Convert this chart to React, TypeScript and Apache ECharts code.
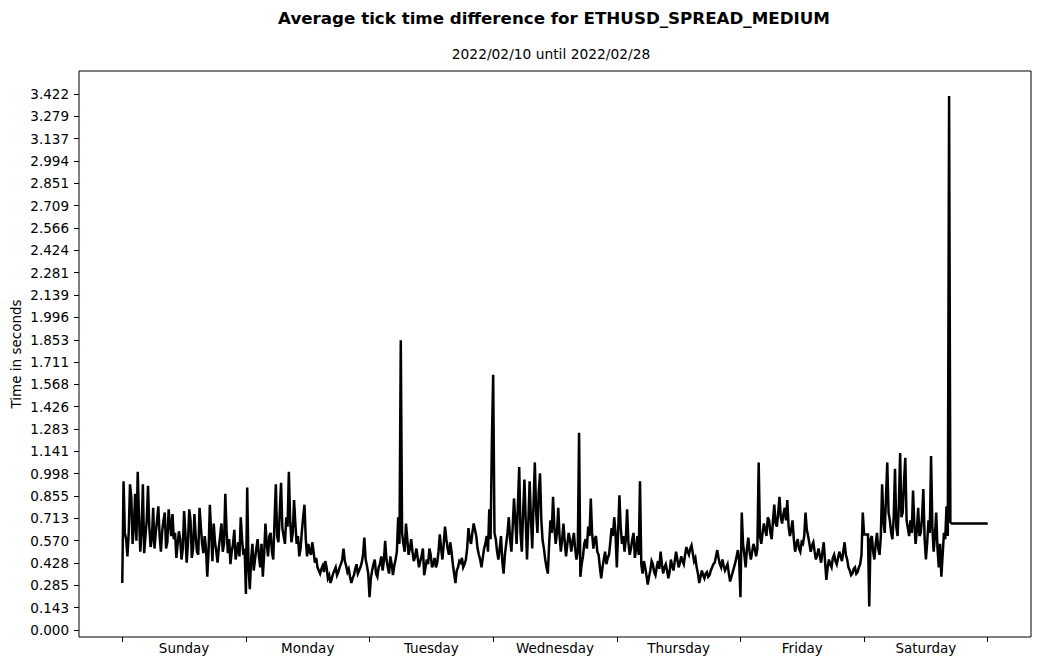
import React, { useEffect, useRef } from "react";
import * as echarts from "echarts";

const dayLabels = ["Sunday", "Monday", "Tuesday", "Wednesday", "Thursday", "Friday", "Saturday"];
const dayTicks = [0, 1, 2, 3, 4, 5, 6, 7];
const dayLabelPositions = [0.5, 1.5, 2.5, 3.5, 4.5, 5.5, 6.5];
const yTickLabels = [
  "0.000", "0.143", "0.285", "0.428", "0.570", "0.713", "0.855", "0.998", "1.141",
  "1.283", "1.426", "1.568", "1.711", "1.853", "1.996", "2.139", "2.281", "2.424",
  "2.566", "2.709", "2.851", "2.994", "3.137", "3.279", "3.422",
];

// averaged tick time differences, in seconds, sampled evenly across each day
const sunday = [0.30,0.95,0.62,0.58,0.47,0.62,0.93,0.85,0.55,0.66,0.87,0.57,1.01,0.72,0.50,0.64,0.93,0.49,0.60,0.70,0.92,0.66,0.53,0.58,0.78,0.52,0.62,0.70,0.79,0.60,0.50,0.63,0.70,0.75,0.52,0.56,0.77,0.68,0.60,0.74,0.58,0.62,0.46,0.55,0.63,0.58,0.45,0.52,0.76,0.62,0.43,0.55,0.77,0.70,0.46,0.52,0.74,0.60,0.50,0.48,0.78,0.66,0.55,0.49,0.60,0.52,0.34,0.50,0.80,0.62,0.44,0.68,0.56,0.50,0.43,0.53,0.60,0.68,0.50,0.55,0.87,0.63,0.49,0.58,0.42,0.50,0.55,0.64,0.45,0.50,0.56,0.47,0.72,0.58,0.48,0.52];
const monday = [0.23,0.91,0.40,0.26,0.45,0.55,0.38,0.45,0.52,0.58,0.47,0.40,0.55,0.34,0.48,0.68,0.55,0.47,0.60,0.62,0.50,0.45,0.70,0.93,0.60,0.56,0.75,0.94,0.65,0.60,0.55,0.72,0.66,1.01,0.70,0.56,0.62,0.83,0.68,0.55,0.60,0.47,0.52,0.63,0.72,0.80,0.58,0.47,0.55,0.50,0.48,0.56,0.50,0.43,0.46,0.40,0.38,0.36,0.39,0.41,0.37,0.44,0.40,0.33,0.35,0.30,0.33,0.36,0.38,0.40,0.35,0.37,0.40,0.42,0.45,0.52,0.44,0.41,0.37,0.39,0.34,0.30,0.33,0.35,0.39,0.42,0.36,0.38,0.40,0.43,0.48,0.59,0.45,0.41,0.36];
const tuesday = [0.21,0.33,0.38,0.42,0.45,0.36,0.34,0.40,0.42,0.47,0.38,0.44,0.57,0.45,0.40,0.36,0.47,0.42,0.35,0.41,0.45,0.50,0.72,0.55,1.85,0.62,0.55,0.50,0.68,0.58,0.48,0.52,0.58,0.50,0.44,0.47,0.52,0.46,0.40,0.44,0.47,0.52,0.35,0.40,0.45,0.42,0.52,0.48,0.40,0.42,0.46,0.40,0.43,0.50,0.61,0.52,0.45,0.55,0.66,0.58,0.52,0.48,0.56,0.50,0.42,0.36,0.30,0.38,0.40,0.44,0.43,0.46,0.40,0.42,0.45,0.52,0.65,0.58,0.55,0.62,0.68,0.64,0.60,0.52,0.48,0.45,0.40,0.46,0.52,0.55,0.60,0.50,0.77,0.58,1.20];
const wednesday = [1.63,0.62,0.58,0.50,0.45,0.52,0.60,0.44,0.36,0.48,0.55,0.62,0.72,0.58,0.50,0.66,0.84,0.70,0.55,0.80,1.04,0.62,0.50,0.75,0.96,0.70,0.45,0.68,0.95,0.72,0.52,0.80,1.07,0.75,0.62,0.88,1.00,0.70,0.57,0.52,0.45,0.40,0.36,0.55,0.70,0.62,0.85,0.66,0.55,0.62,0.78,0.60,0.50,0.58,0.68,0.56,0.47,0.55,0.62,0.58,0.50,0.56,0.62,0.52,0.45,0.50,1.26,0.34,0.42,0.47,0.55,0.58,0.52,0.66,0.60,0.84,0.62,0.52,0.58,0.60,0.50,0.48,0.40,0.33,0.40,0.45,0.50,0.42,0.46,0.48,0.56,0.65,0.60,0.72,0.62];
const thursday = [0.40,0.62,0.86,0.66,0.55,0.60,0.50,0.58,0.77,0.56,0.48,0.52,0.58,0.62,0.46,0.52,0.60,0.48,0.95,0.42,0.36,0.44,0.40,0.35,0.29,0.34,0.38,0.44,0.42,0.37,0.35,0.40,0.44,0.39,0.50,0.42,0.36,0.40,0.42,0.38,0.33,0.37,0.45,0.41,0.38,0.44,0.50,0.45,0.40,0.43,0.47,0.44,0.42,0.48,0.53,0.50,0.48,0.52,0.54,0.49,0.44,0.46,0.40,0.36,0.30,0.34,0.38,0.35,0.33,0.36,0.37,0.34,0.35,0.38,0.40,0.42,0.43,0.47,0.51,0.46,0.42,0.40,0.45,0.41,0.38,0.40,0.42,0.36,0.31,0.34,0.37,0.40,0.43,0.47,0.51,0.44];
const friday = [0.21,0.75,0.55,0.48,0.40,0.52,0.59,0.50,0.45,0.50,0.55,0.52,0.47,0.52,1.07,0.60,0.55,0.62,0.68,0.64,0.60,0.72,0.70,0.62,0.58,0.70,0.80,0.68,0.66,0.75,0.85,0.72,0.68,0.74,0.78,0.70,0.83,0.66,0.60,0.64,0.70,0.58,0.50,0.55,0.58,0.52,0.50,0.56,0.55,0.60,0.75,0.64,0.60,0.55,0.50,0.54,0.56,0.50,0.45,0.48,0.52,0.47,0.43,0.50,0.56,0.44,0.32,0.40,0.45,0.42,0.40,0.46,0.48,0.44,0.42,0.46,0.50,0.47,0.44,0.50,0.56,0.48,0.45,0.40,0.38,0.35,0.36,0.39,0.40,0.36,0.37,0.40,0.42,0.48,0.75];
const saturday = [0.61,0.61,0.61,0.61,0.15,0.58,0.60,0.50,0.45,0.55,0.62,0.52,0.48,0.60,0.93,0.70,0.62,0.85,1.07,0.75,0.70,0.62,0.58,0.72,1.03,0.66,0.60,0.80,1.13,0.72,0.75,0.95,1.10,0.70,0.65,0.60,0.70,0.62,0.89,0.68,0.55,0.64,0.78,0.60,0.62,0.72,0.90,0.58,0.45,0.56,0.70,0.62,1.11,0.66,0.50,0.60,0.75,0.52,0.40,0.55,0.34,0.48,0.62,0.58,0.79,0.60,3.41,0.69,0.68,0.68,0.68,0.68,0.68,0.68,0.68,0.68,0.68,0.68,0.68,0.68,0.68,0.68,0.68,0.68,0.68,0.68,0.68,0.68,0.68,0.68,0.68,0.68,0.68,0.68,0.68,0.68];
const endValue = 0.68;

const FONT = "DejaVu Sans";

export default function App() {
  const ref = useRef<HTMLDivElement>(null);
  useEffect(() => {
    const chart = echarts.init(ref.current as HTMLDivElement, null, { renderer: "svg" });
    const days = [sunday, monday, tuesday, wednesday, thursday, friday, saturday];
    const data: number[][] = [];
    days.forEach((vals, d) => vals.forEach((v, i) => data.push([d + i / vals.length, v])));
    data.push([7, endValue]);
    chart.setOption({
      animation: false,
      backgroundColor: "#ffffff",
      textStyle: { fontFamily: FONT },
      grid: {
        left: 79, right: 8, top: 71, bottom: 27,
        containLabel: false,
        outerBoundsMode: "none",
        show: true, borderColor: "#000000", borderWidth: 1, backgroundColor: "transparent",
      },
      graphic: [
        {
          type: "text", x: 554, y: 18,
          style: {
            text: "Average tick time difference for ETHUSD_SPREAD_MEDIUM",
            fontFamily: FONT, fontSize: 16.7, fontWeight: "bold", fill: "#000",
            align: "center", verticalAlign: "middle",
          },
        },
        {
          type: "text", x: 551, y: 54,
          style: {
            text: "2022/02/10 until 2022/02/28",
            fontFamily: FONT, fontSize: 13.8, fill: "#000",
            align: "center", verticalAlign: "middle",
          },
        },
        {
          type: "text", x: 16, y: 354, rotation: Math.PI / 2,
          style: {
            text: "Time in seconds",
            fontFamily: FONT, fontSize: 13.5, fill: "#000",
            align: "center", verticalAlign: "middle",
          },
        },
      ],
      xAxis: {
        type: "value",
        min: -0.35, max: 7.35,
        axisLine: { show: false, onZero: false },
        splitLine: { show: false },
        axisTick: { show: true, length: 5, customValues: dayTicks, lineStyle: { color: "#000", width: 1 } },
        axisLabel: {
          show: true, customValues: dayLabelPositions, margin: 4,
          color: "#000", fontSize: 13.5, fontFamily: FONT,
          formatter: (v: number) => dayLabels[Math.floor(v)] ?? "",
        },
      },
      yAxis: {
        type: "value",
        min: -0.0447, max: 3.569,
        axisLine: { show: false, onZero: false },
        splitLine: { show: false },
        axisTick: { show: true, length: 5, customValues: yTickLabels.map(Number), lineStyle: { color: "#000", width: 1 } },
        axisLabel: {
          show: true, customValues: yTickLabels.map(Number), margin: 10,
          color: "#000", fontSize: 13.5, fontFamily: FONT,
          formatter: (v: number) => v.toFixed(3),
        },
      },
      series: [
        {
          type: "line",
          data,
          showSymbol: false,
          lineStyle: { color: "#000000", width: 2.5, join: "miter" },
          itemStyle: { color: "#000000" },
        },
      ],
    });
    return () => chart.dispose();
  }, []);
  return <div ref={ref} style={{ position: "fixed", left: 0, top: 0, width: 1039, height: 664 }} />;
}
